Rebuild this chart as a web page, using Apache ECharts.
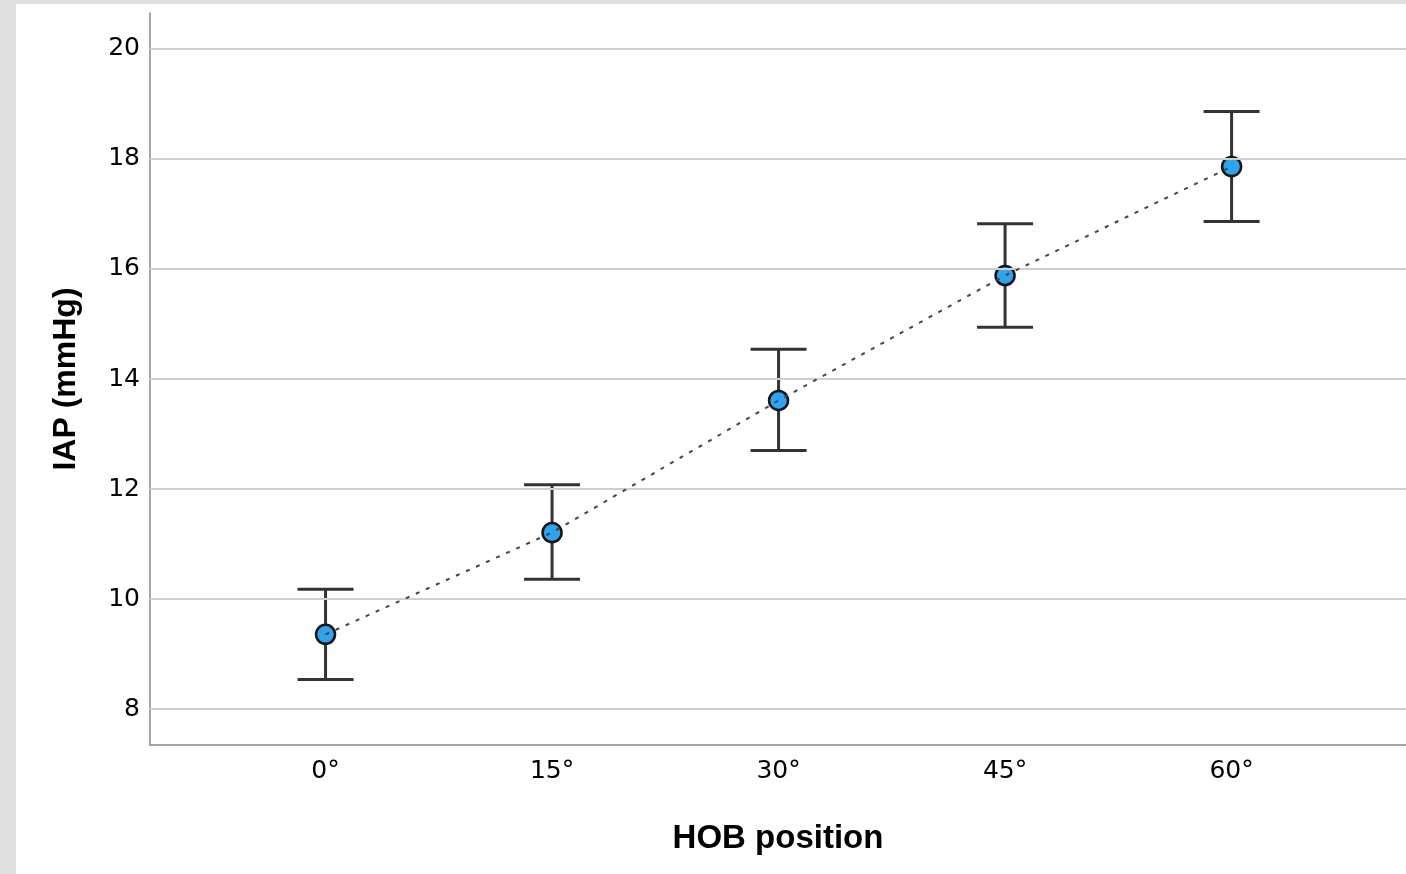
<!DOCTYPE html>
<html>
<head>
<meta charset="utf-8">
<script src="https://cdn.jsdelivr.net/npm/echarts@6/dist/echarts.min.js"></script>
<style>
  html, body { margin: 0; padding: 0; background: #e0e0e0; }
  #frame { position: absolute; left: 16px; top: 4px; width: 1390px; height: 870px; background: #fff; }
  #main { width: 1390px; height: 870px; }
</style>
</head>
<body>
<div id="frame"><div id="main"></div></div>
<script>
// HOB positions and IAP means with error bar limits
const categories = ["0°", "15°", "30°", "45°", "60°"];
const means = [9.36, 11.21, 13.61, 15.88, 17.86];
const upper = [10.18, 12.08, 14.54, 16.82, 18.86];
const lower = [8.54, 10.36, 12.70, 14.94, 16.86];
const yTicks = [8, 10, 12, 14, 16, 18, 20];

const xIdx = categories.map((c, i) => i);
const meanData = means.map((v, i) => [i, v]);
const barData = means.map((v, i) => [i, lower[i], upper[i]]);

let myChart = echarts.init(document.getElementById("main"));
myChart.setOption({
  animation: false,
  grid: { left: 134, right: 0, top: 9, bottom: 129 },
  xAxis: {
    type: "value",
    min: -0.775,
    max: 4.77,
    name: "HOB position",
    nameLocation: "middle",
    nameGap: 77,
    nameTextStyle: { fontFamily: "Liberation Sans", fontWeight: "bold", fontSize: 33, color: "#000" },
    axisLine: { onZero: false, lineStyle: { color: "#888", width: 1.5 } },
    axisTick: { show: false },
    splitLine: { show: false },
    axisLabel: {
      customValues: xIdx,
      formatter: (v) => categories[Math.round(v)],
      fontFamily: "DejaVu Sans",
      fontSize: 25,
      color: "#000",
      margin: 14,
    },
  },
  yAxis: {
    type: "value",
    min: 7.35,
    max: 20.65,
    name: "IAP (mmHg)",
    nameLocation: "middle",
    nameGap: 68,
    nameTextStyle: { fontFamily: "Liberation Sans", fontWeight: "bold", fontSize: 32, color: "#000" },
    axisLine: { show: true, onZero: false, lineStyle: { color: "#888", width: 1.5 } },
    axisTick: { show: false },
    splitLine: { show: false },
    axisLabel: {
      customValues: yTicks,
      fontFamily: "DejaVu Sans",
      fontSize: 25,
      color: "#000",
      margin: 10,
    },
  },
  series: [
    {
      // gridlines
      type: "line",
      data: [],
      z: 1,
      silent: true,
      markLine: {
        silent: true,
        symbol: "none",
        label: { show: false },
        lineStyle: { color: "#cfcfcf", width: 2, type: "solid" },
        data: yTicks.map((t) => ({ yAxis: t })),
      },
    },
    {
      type: "custom",
      z: 3,
      data: barData,
      renderItem: function (params, api) {
        const lo = api.coord([api.value(0), api.value(1)]);
        const hi = api.coord([api.value(0), api.value(2)]);
        const hw = 28;
        const style = { stroke: "#333", lineWidth: 3 };
        return {
          type: "group",
          children: [
            { type: "line", shape: { x1: hi[0], y1: hi[1], x2: lo[0], y2: lo[1] }, style: style },
            { type: "line", shape: { x1: hi[0] - hw, y1: hi[1], x2: hi[0] + hw, y2: hi[1] }, style: style },
            { type: "line", shape: { x1: lo[0] - hw, y1: lo[1], x2: lo[0] + hw, y2: lo[1] }, style: style },
          ],
        };
      },
    },
    {
      type: "scatter",
      z: 4,
      data: meanData,
      symbol: "circle",
      symbolSize: 19,
      itemStyle: { color: "#2ea3f2", borderColor: "#151515", borderWidth: 2.5, opacity: 1 },
    },
    {
      type: "line",
      z: 5,
      data: meanData,
      symbol: "none",
      lineStyle: { color: "#444", width: 2, type: [4, 7] },
    },
  ],
});
window.onresize = function () {
  myChart.resize();
};
</script>
</body>
</html>
